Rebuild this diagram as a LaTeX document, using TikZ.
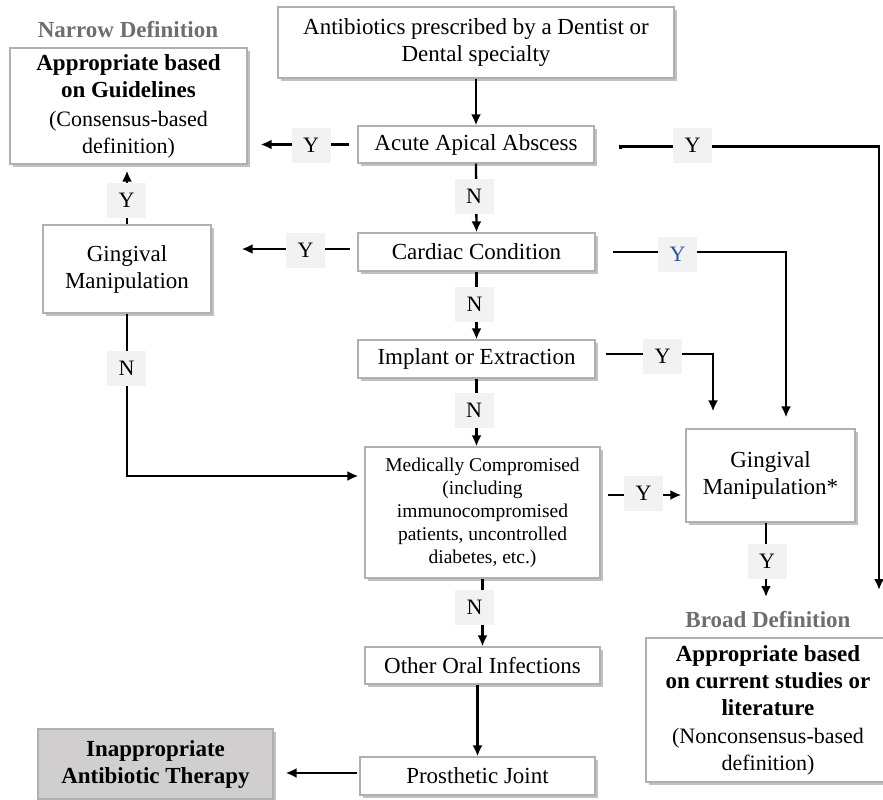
\documentclass[tikz,border=0pt]{standalone}
\usepackage{fontspec}
\setmainfont{Liberation Serif}
\usetikzlibrary{arrows.meta,shadows,calc}
\definecolor{bordergray}{HTML}{B0B0B0}
\definecolor{lblfill}{HTML}{F2F2F2}
\definecolor{titlegray}{HTML}{6E6E6E}
\definecolor{yblue}{HTML}{2F5496}
\definecolor{inappfill}{HTML}{D0CECE}
\begin{document}
\begin{tikzpicture}[x=1pt,y=-1pt,
  box/.style={draw=bordergray, line width=1.2pt, fill=white,
    drop shadow={shadow xshift=3pt, shadow yshift=-3pt, opacity=0.35, fill=black!70},
    align=center, inner sep=0pt, font=\fontsize{23}{27}\selectfont},
  lbl/.style={fill=lblfill, minimum width=39pt, minimum height=35pt, inner sep=0pt,
    font=\fontsize{22}{26}\selectfont},
  ln/.style={line width=2.3pt},
  arr/.style={ln, -{Latex[length=11pt,width=10pt]}},
  deftitle/.style={font=\fontsize{23}{27}\selectfont\bfseries, text=titlegray, inner sep=0pt}]
\useasboundingbox (0,0) rectangle (883,800);

% titles
\node[deftitle] (narrowtitle) at (128,30) {Narrow Definition};
\node[deftitle] (broadtitle) at (768,620) {Broad Definition};

% boxes
\node[box, minimum width=396pt, minimum height=71pt] (top) at (476,42.5)
  {Antibiotics prescribed by a Dentist or\\Dental specialty};
\node[box, minimum width=237pt, minimum height=116pt] (narrow) at (128.5,106)
  {\textbf{Appropriate based}\\\textbf{on Guidelines}\\[2pt]
   {\fontsize{22}{25}\selectfont (Consensus-based}\\{\fontsize{22}{25}\selectfont definition)}};
\node[box, minimum width=236pt, minimum height=37pt] (acute) at (476,144.5) {Acute Apical Abscess};
\node[box, minimum width=237pt, minimum height=38pt] (cardiac) at (476.5,252) {Cardiac Condition};
\node[box, minimum width=168pt, minimum height=88pt] (ging1) at (127,269) {Gingival\\Manipulation};
\node[box, minimum width=237pt, minimum height=38pt] (implant) at (476.5,359) {Implant or Extraction};
\node[box, minimum width=235pt, minimum height=131pt, font=\fontsize{19.5}{23}\selectfont] (med) at (482.5,512.5)
  {Medically Compromised\\(including\\immunocompromised\\patients, uncontrolled\\diabetes, etc.)};
\node[box, minimum width=169pt, minimum height=93pt] (ging2) at (770.5,475.5) {Gingival\\Manipulation*};
\node[box, minimum width=235pt, minimum height=37pt] (other) at (482.5,665.5) {Other Oral Infections};
\node[box, minimum width=235pt, minimum height=38pt] (prost) at (477.5,776) {Prosthetic Joint};
\node[box, fill=inappfill, minimum width=235pt, minimum height=70pt] (inapp) at (155.5,764)
  {\textbf{Inappropriate}\\\textbf{Antibiotic Therapy}};
\node[box, minimum width=244pt, minimum height=144pt] (broad) at (768,710)
  {\textbf{Appropriate based}\\\textbf{on current studies or}\\\textbf{literature}\\[1pt]
   {\fontsize{22}{25}\selectfont (Nonconsensus-based}\\{\fontsize{22}{25}\selectfont definition)}};

% named free ends
\coordinate (rcend) at (879,590);
\coordinate (tipB) at (766,597);

% connectors
\draw[arr] (top.south) -- (acute.north);
\draw[arr, shorten <=8pt, shorten >=13pt] (acute.west) -- (acute.west -| narrow.east);
\draw[arr] (acute.south) -- (cardiac.north);
\draw[arr] ([xshift=26pt,yshift=-4pt]acute.east) -- ([xshift=26pt,yshift=-2pt]acute.east)
  -- ([yshift=-2pt]acute.east -| rcend) -- (rcend);
\draw[arr, shorten <=7pt, shorten >=30pt] ([yshift=3pt]cardiac.west) -- ([yshift=3pt]cardiac.west -| ging1.east);
\draw[arr, shorten >=6pt] (ging1.north) -- (ging1.north |- narrow.south);
\draw[arr, shorten >=6pt] (ging1.south) |- ([yshift=36.5pt]med.west);
\draw[arr] (cardiac.south) -- (implant.north);
\draw[arr, shorten <=17pt, shorten >=11pt] (cardiac.east) -| ([xshift=15.5pt]ging2.north);
\draw[arr, shorten <=10pt, shorten >=17pt] ([yshift=5pt]implant.east) -| ([xshift=-57.5pt]ging2.north);
\draw[arr] (implant.south) -- (implant.south |- med.north);
\draw[arr, shorten <=7pt, shorten >=4pt] ([yshift=17.5pt]med.east) -- ([yshift=17.5pt]med.east -| ging2.west);
\draw[arr] (ging2.south -| tipB) -- (tipB);
\draw[arr] (med.south -| other.north) -- (other.north);
\draw[arr] (other.south -| prost.north) -- (prost.north);
\draw[arr, shorten <=2pt, shorten >=12pt] ([yshift=3pt]prost.west) -- ([yshift=3pt]prost.west -| inapp.east);

% Y/N labels
\node[lbl] (yA1) at (311,145) {Y};
\node[lbl] (nA) at (474,196.5) {N};
\node[lbl] (yA2) at (692.5,145) {Y};
\node[lbl] (yC1) at (305.5,250) {Y};
\node[lbl] (yG1) at (126.5,200) {Y};
\node[lbl] (nG1) at (126.5,368.5) {N};
\node[lbl, text=yblue] (yC2) at (677.5,254.5) {Y};
\node[lbl] (nC) at (474.5,304.5) {N};
\node[lbl] (yI) at (662.5,356) {Y};
\node[lbl] (nI) at (474,410) {N};
\node[lbl] (yM) at (643.5,493.5) {Y};
\node[lbl] (yG2) at (767,561) {Y};
\node[lbl] (nM) at (474.5,607.5) {N};
\end{tikzpicture}
\end{document}
